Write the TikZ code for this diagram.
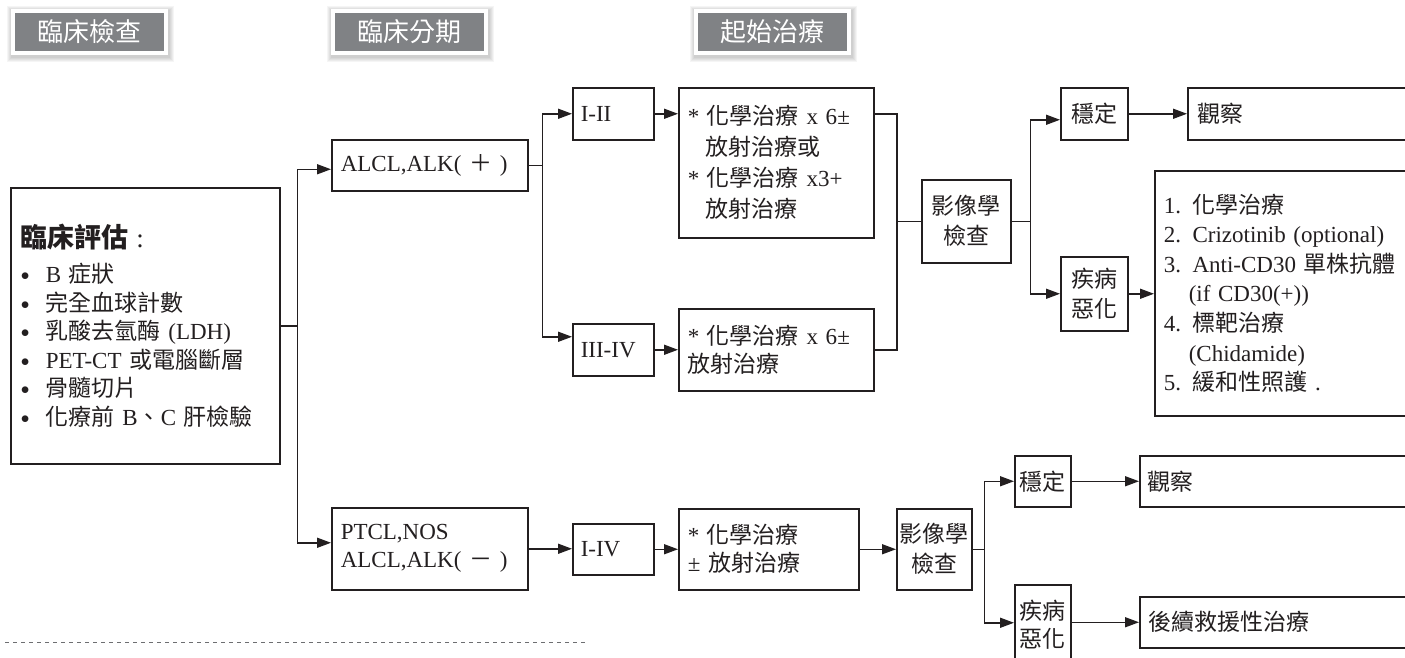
\documentclass[tikz,border=0pt]{standalone}
\usepackage{fontspec}
\setmainfont{Liberation Serif}
\newfontfamily\cjkfont{Noto Sans CJK TC}
\newcommand{\zh}[1]{{\cjkfont #1}}
\newcommand{\bul}{\makebox[25pt][l]{\raisebox{2pt}{\fontsize{17}{17}\selectfont$\bullet$}}}
\usetikzlibrary{arrows.meta,calc}
\definecolor{ink}{HTML}{231F20}
\definecolor{hdrgray}{HTML}{808285}
\definecolor{dashgray}{HTML}{6D6E71}
\pgfdeclarelayer{bg}
\pgfsetlayers{bg,main}
\tikzset{
  box/.style={draw=ink, line width=1.5pt, inner sep=0pt, anchor=north west,
    font=\fontsize{23}{28}\selectfont, text=ink},
  hdr/.style={fill=hdrgray, draw=white, line width=4pt, minimum width=153pt,
    minimum height=42pt, inner sep=0pt, text=white,
    font=\cjkfont\fontsize{26}{30}\selectfont},
  conn/.style={draw=ink, line width=1.5pt},
  arr/.style={conn, -{Triangle[length=14pt,width=10pt]}},
}
\begin{document}
\begin{tikzpicture}[x=1pt,y=-1pt]
\useasboundingbox (0,0) rectangle (1405,657);
\clip (0,0) rectangle (1405,657);

% headers
\node[hdr] (h1) at (89.5,32) {臨床檢查};
\node[hdr] (h2) at (409.5,32) {臨床分期};
\node[hdr] (h3) at (772.5,32) {起始治療};

% clinical assessment
\node[box, minimum width=269pt, minimum height=276pt, text width=249pt,
  inner xsep=10pt, align=left, font=\fontsize{23}{28.5}\selectfont] (assess) at (10,187)
  {{\cjkfont\bfseries\fontsize{27}{30}\selectfont 臨床評估}{\fontsize{27}{30}\selectfont\ :}\\[6.5pt]
   \bul B \zh{症狀}\\
   \bul \zh{完全血球計數}\\
   \bul \zh{乳酸去氫酶} (LDH)\\
   \bul PET-CT \zh{或電腦斷層}\\
   \bul \zh{骨髓切片}\\
   \bul \zh{化療前} B\zh{、}C \zh{肝檢驗}};

% staging
\node[box, minimum width=196pt, minimum height=51pt, text width=178pt,
  inner xsep=9pt, align=left] (alkpos) at (331,139) {ALCL,ALK( \zh{＋} )};
\node[box, minimum width=196pt, minimum height=82pt, text width=178pt,
  inner xsep=9pt, align=left] (ptcl) at (331,507) {PTCL,NOS\\ALCL,ALK( \zh{－} )};

\node[box, minimum width=81pt, minimum height=52pt, text width=65pt,
  inner xsep=8pt, align=left] (s12) at (572,87) {I-II};
\node[box, minimum width=81pt, minimum height=52pt, text width=65pt,
  inner xsep=8pt, align=left] (s34) at (572,323) {III-IV};
\node[box, minimum width=81pt, minimum height=51pt, text width=65pt,
  inner xsep=8pt, align=left] (s14) at (572,523) {I-IV};

% treatment
\node[box, minimum width=195pt, minimum height=150pt, text width=177pt,
  inner xsep=9pt, align=left, font=\fontsize{23}{31}\selectfont] (tx1) at (678,87)
  {* \zh{化學治療} x 6±\\
   \hspace*{18pt}\zh{放射治療或}\\{}%
   * \zh{化學治療} x3+\\
   \hspace*{18pt}\zh{放射治療}};
\node[box, minimum width=195pt, minimum height=82pt, text width=177pt,
  inner xsep=9pt, align=left] (tx2) at (678,308)
  {* \zh{化學治療} x 6±\\ \zh{放射治療}};
\node[box, minimum width=180pt, minimum height=81pt, text width=162pt,
  inner xsep=9pt, align=left] (tx3) at (678,508)
  {* \zh{化學治療}\\ ± \zh{放射治療}};

% imaging
\node[box, minimum width=89pt, minimum height=83pt, align=center,
  font=\cjkfont\fontsize{23}{30}\selectfont] (img1) at (921,179) {影像學\\檢查};
\node[box, minimum width=75pt, minimum height=81pt, align=center,
  font=\cjkfont\fontsize{23}{30}\selectfont] (img2) at (896,508) {影像學\\檢查};

% outcomes, upper
\node[box, minimum width=67pt, minimum height=52pt, align=center,
  font=\cjkfont\fontsize{23}{30}\selectfont] (stab1) at (1060,87) {穩定};
\node[box, minimum width=67pt, minimum height=74pt, align=center,
  font=\cjkfont\fontsize{23}{30}\selectfont] (prog1) at (1060,256) {疾病\\惡化};
\node[box, minimum width=240pt, minimum height=52pt, text width=220pt,
  inner xsep=10pt, align=left, font=\cjkfont\fontsize{23}{30}\selectfont] (obs1) at (1187,87) {觀察};
\node[box, minimum width=270pt, minimum height=245pt, text width=252pt,
  inner xsep=9pt, align=left, font=\fontsize{23}{29.6}\selectfont] (list) at (1154,170)
  {1. \zh{化學治療}\\
   2. Crizotinib (optional)\\
   3. Anti-CD30 \zh{單株抗體}\\
   \hspace*{25pt}(if CD30(+))\\
   4. \zh{標靶治療}\\
   \hspace*{25pt}(Chidamide)\\
   5. \zh{緩和性照護} .};

% outcomes, lower
\node[box, minimum width=56pt, minimum height=51pt, align=center,
  font=\cjkfont\fontsize{23}{30}\selectfont] (stab2) at (1014,455) {穩定};
\node[box, minimum width=56pt, minimum height=80pt, align=center,
  font=\cjkfont\fontsize{23}{28}\selectfont] (prog2) at (1014,584) {疾病\\惡化};
\node[box, minimum width=280pt, minimum height=51pt, text width=264pt,
  inner xsep=8pt, align=left, font=\cjkfont\fontsize{23}{30}\selectfont] (obs2) at (1139,455) {觀察};
\node[box, minimum width=280pt, minimum height=51pt, text width=262pt,
  inner xsep=9pt, align=left, font=\cjkfont\fontsize{23}{30}\selectfont] (salv) at (1139,596) {後續救援性治療};

% connectors
\draw[conn] (assess.east) -- ++(17,0) coordinate (j1);
\draw[arr] (j1) |- ([yshift=-4pt]alkpos.west);
\draw[arr] (j1) |- ([yshift=6pt]ptcl.west);

\draw[conn] (alkpos.east) -- ++(14,0) coordinate (j2);
\draw[arr] (j2) |- (s12.west);
\draw[arr] (j2) |- ([yshift=13pt]s34.west);
\draw[arr] (s12.east) -- (s12.east -| tx1.west);
\draw[arr] (s34.east) -- (s34.east -| tx2.west);

\coordinate (j3) at ($(img1.west)+(-24,0)$);
\draw[conn] (s12.east -| tx1.east) -| (j3) |- (tx2.east);
\draw[conn] (j3) -- (img1.west);

\draw[conn] (img1.east) -- ++(19,0) coordinate (j4);
\draw[arr] (j4) |- ([yshift=-6pt]stab1.west);
\draw[arr] (j4) |- (prog1.west);
\draw[arr] (stab1.east) -- (stab1.east -| obs1.west);
\draw[arr] (prog1.east) -- (prog1.east -| list.west);

\draw[arr] (ptcl.east) -- (ptcl.east -| s14.west);
\draw[arr] (s14.east) -- (s14.east -| tx3.west);
\draw[arr] (tx3.east) -- (tx3.east -| img2.west);
\draw[conn] (img2.east) -- ++(12,0) coordinate (j5);
\draw[arr] (j5) |- (stab2.west);
\draw[arr] (j5) |- ([yshift=2pt]prog2.west);
\draw[arr] (stab2.east) -- (stab2.east -| obs2.west);
\draw[arr] (salv.west -| prog2.east) -- (salv.west);

% dashed rule
\draw[dashgray, line width=1pt, dash pattern=on 4pt off 4pt] (5,642) -- (587,642);

% background and header shadows
\begin{pgfonlayer}{bg}
  \fill[white] (0,0) rectangle (1405,657);
  \foreach \n in {h1,h2,h3}{
    \foreach \i in {1,...,5}{
      \fill[black,opacity=0.04]
        ([xshift={(1-\i)*1pt}, yshift={(-2-\i)*1pt}]\n.south west) rectangle
        ([xshift={(1+\i)*1pt}, yshift={(\i-2)*1pt}]\n.north east);
    }
  }
\end{pgfonlayer}
\end{tikzpicture}
\end{document}
